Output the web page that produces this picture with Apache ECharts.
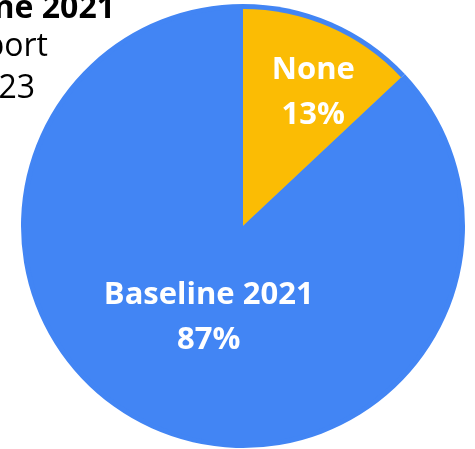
<!DOCTYPE html>
<html>
<head>
<meta charset="utf-8">
<script src="https://cdn.jsdelivr.net/npm/echarts@6/dist/echarts.min.js"></script>
<style>
html,body{margin:0;padding:0;background:#fff;}
#chart{width:475px;height:449px;}
</style>
</head>
<body>
<div id="chart"></div>
<script>
var categories = ['None', 'Baseline 2021'];
var values = [13, 87];
var sliceColors = ['#FBBC04', '#4285F4'];
var titleLines = ['Baseline 2021', 'Support', '2023'];

var FONT = '"Open Sans", sans-serif';
var chart = echarts.init(document.getElementById('chart'), null, {renderer: 'canvas'});

var pieData = categories.map(function (c, i) {
  return {name: c, value: values[i], itemStyle: {color: sliceColors[i]}};
});
var labelShift = [[26, -31], [10, -11]];

chart.setOption({
  animation: false,
  backgroundColor: '#ffffff',
  graphic: [
    {type: 'text', x: 115, y: 9, style: {text: titleLines[0], fill: '#000', font: 'bold 32px ' + FONT, textAlign: 'right', textVerticalAlign: 'middle'}},
    {type: 'text', x: 48, y: 47, style: {text: titleLines[1], fill: '#000', font: '32px ' + FONT, textAlign: 'right', textVerticalAlign: 'middle'}},
    {type: 'text', x: 35, y: 89, style: {text: titleLines[2], fill: '#000', font: '32px ' + FONT, textAlign: 'right', textVerticalAlign: 'middle'}}
  ],
  series: [
    {
      type: 'pie',
      silent: true,
      center: [243, 226],
      radius: 222,
      startAngle: 90,
      label: {show: false},
      labelLine: {show: false},
      itemStyle: {color: sliceColors[1]},
      data: categories.map(function (c, i) { return {name: c, value: values[i]}; }),
      z: 1
    },
    {
      type: 'pie',
      center: [243, 226],
      radius: 217,
      startAngle: 90,
      z: 2,
      data: pieData,
      label: {
        show: true,
        position: 'inside',
        formatter: '{b}\n{d}%',
        color: '#ffffff',
        fontFamily: FONT,
        fontWeight: 'bold',
        fontSize: 31,
        lineHeight: 45,
        align: 'center'
      },
      labelLine: {show: false},
      labelLayout: function (p) {
        return {dx: labelShift[p.dataIndex][0], dy: labelShift[p.dataIndex][1]};
      }
    }
  ]
});
</script>
</body>
</html>
